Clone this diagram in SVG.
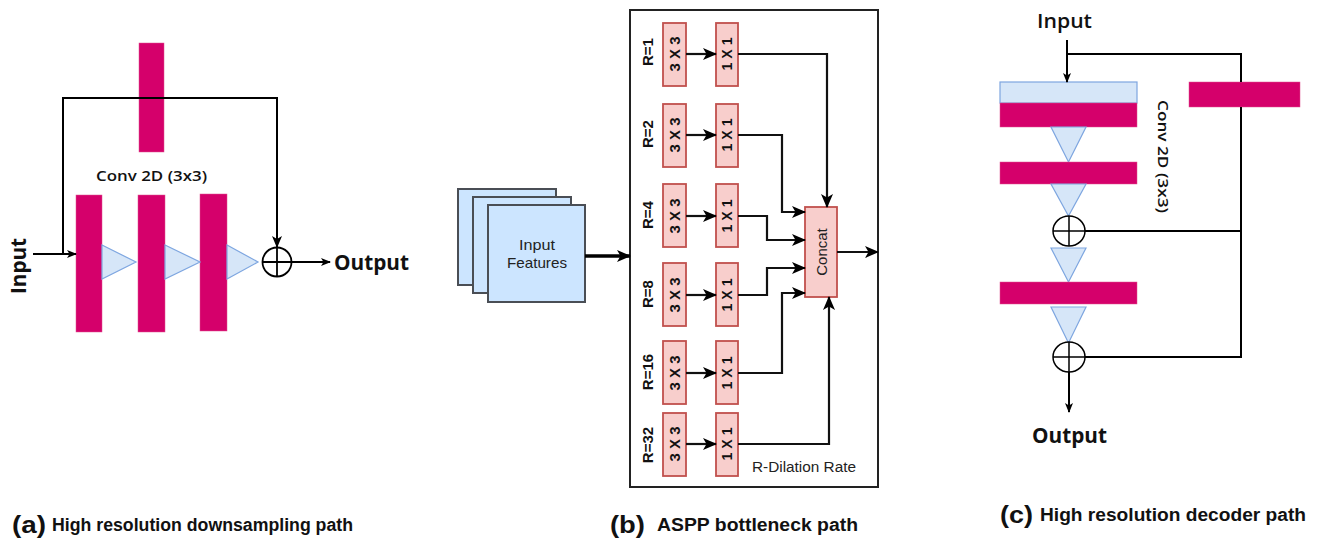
<svg xmlns="http://www.w3.org/2000/svg" width="1318" height="541" viewBox="0 0 1318 541">
<style>
.mag{fill:#d5006b;stroke:#e0508f;stroke-width:0.5}
.tri{fill:#d6e6f8;stroke:#7ea6e0;stroke-width:1.2}
.ln{fill:none;stroke:#000;stroke-width:2}
.ln2{fill:none;stroke:#111;stroke-width:2.2}
.sal{fill:#f8cecc;stroke:#c0504d;stroke-width:1.8}
.card{fill:#cce5ff;stroke:#4a4e55;stroke-width:2}
.bold{font-family:"Liberation Sans",Arial,sans-serif;font-weight:bold;fill:#111}
.rl{font-family:"Liberation Sans",Arial,sans-serif;font-weight:bold;fill:#111;font-size:15px}
.bx{font-family:"Liberation Sans",Arial,sans-serif;font-weight:bold;fill:#111;font-size:14px}
.os{font-family:"Open Sans","Liberation Sans",sans-serif;fill:#111}
.cap{font-family:"Liberation Sans",Arial,sans-serif;font-weight:bold;fill:#111}
</style>
<defs>
<marker id="ah" markerUnits="userSpaceOnUse" markerWidth="12" markerHeight="10" refX="11" refY="5" orient="auto"><path d="M0,0 L12,5 L0,10 L3,5 Z" fill="#000"/></marker>
<marker id="ahb" markerUnits="userSpaceOnUse" markerWidth="14" markerHeight="12" refX="13" refY="6" orient="auto"><path d="M0,0 L14,6 L0,12 L3.5,6 Z" fill="#000"/></marker>
<marker id="ahs" markerUnits="userSpaceOnUse" markerWidth="10" markerHeight="8" refX="9" refY="4" orient="auto"><path d="M0,0 L10,4 L0,8 L2.5,4 Z" fill="#000"/></marker>
</defs>
<rect width="1318" height="541" fill="#fff"/>

<!-- Panel (a) -->
<g id="a-skipconv"><rect class="mag" x="139" y="43" width="25" height="109"/></g>
<g id="a-conv1"><rect class="mag" x="76" y="195" width="26" height="137"/></g>
<g id="a-conv2"><rect class="mag" x="138" y="195" width="27" height="137"/></g>
<g id="a-conv3"><rect class="mag" x="200" y="194" width="27" height="137"/></g>
<g id="a-tri1"><path class="tri" d="M102,245 L136,262 L102,279 Z"/></g>
<g id="a-tri2"><path class="tri" d="M165,245 L200,262 L165,279 Z"/></g>
<g id="a-tri3"><path class="tri" d="M227,245 L258,262 L227,279 Z"/></g>
<g id="a-sum"><circle cx="277" cy="262" r="14.5" fill="#fff" stroke="#000" stroke-width="1.8"/><path d="M262.5,262 H291.5 M277,247.5 V276.5" stroke="#000" stroke-width="1.8"/></g>
<g id="a-labels">
<text class="os" x="96" y="181" font-size="14" font-weight="600" textLength="111" lengthAdjust="spacingAndGlyphs">Conv 2D (3x3)</text>
<text class="os" x="334" y="270" font-size="21" font-weight="bold" textLength="75" lengthAdjust="spacingAndGlyphs">Output</text>
<text class="os" transform="translate(26,294) rotate(-90)" font-size="21" font-weight="bold" textLength="56" lengthAdjust="spacingAndGlyphs">Input</text>
</g>

<!-- Panel (b) -->
<g id="b-input">
<rect class="card" x="458" y="189" width="98" height="96"/>
<rect class="card" x="473" y="197" width="98" height="96"/>
<rect class="card" x="488" y="205" width="97" height="97"/>
<text x="537" y="250" text-anchor="middle" font-size="15" font-family="Liberation Sans, Arial, sans-serif" fill="#222" textLength="36" lengthAdjust="spacingAndGlyphs">Input</text>
<text x="537" y="268" text-anchor="middle" font-size="15" font-family="Liberation Sans, Arial, sans-serif" fill="#222" textLength="60" lengthAdjust="spacingAndGlyphs">Features</text>
</g>
<g id="b-aspp"><rect x="630" y="10" width="248" height="477" fill="none" stroke="#222" stroke-width="2"/>
<text x="752" y="472" font-size="14" font-family="Liberation Sans, Arial, sans-serif" fill="#222" textLength="104" lengthAdjust="spacingAndGlyphs">R-Dilation Rate</text></g>

<g id="b-row1"><text class="rl" text-anchor="middle" transform="translate(653,52) rotate(-90)">R=1</text>
<rect class="sal" x="663" y="23" width="23" height="63"/><text class="bx" text-anchor="middle" transform="translate(679.5,54) rotate(-90)" textLength="35" lengthAdjust="spacingAndGlyphs">3 X 3</text>
<rect class="sal" x="716" y="23" width="22" height="63"/><text class="bx" text-anchor="middle" transform="translate(732,54) rotate(-90)" textLength="33" lengthAdjust="spacingAndGlyphs">1 X 1</text></g>
<g id="b-row2"><text class="rl" text-anchor="middle" transform="translate(653,134) rotate(-90)">R=2</text>
<rect class="sal" x="663" y="104" width="23" height="63"/><text class="bx" text-anchor="middle" transform="translate(679.5,135) rotate(-90)" textLength="35" lengthAdjust="spacingAndGlyphs">3 X 3</text>
<rect class="sal" x="716" y="104" width="22" height="63"/><text class="bx" text-anchor="middle" transform="translate(732,135) rotate(-90)" textLength="33" lengthAdjust="spacingAndGlyphs">1 X 1</text></g>
<g id="b-row3"><text class="rl" text-anchor="middle" transform="translate(653,215) rotate(-90)">R=4</text>
<rect class="sal" x="663" y="184" width="23" height="63"/><text class="bx" text-anchor="middle" transform="translate(679.5,216) rotate(-90)" textLength="35" lengthAdjust="spacingAndGlyphs">3 X 3</text>
<rect class="sal" x="716" y="184" width="22" height="63"/><text class="bx" text-anchor="middle" transform="translate(732,216) rotate(-90)" textLength="33" lengthAdjust="spacingAndGlyphs">1 X 1</text></g>
<g id="b-row4"><text class="rl" text-anchor="middle" transform="translate(653,294) rotate(-90)">R=8</text>
<rect class="sal" x="663" y="263" width="23" height="63"/><text class="bx" text-anchor="middle" transform="translate(679.5,295) rotate(-90)" textLength="35" lengthAdjust="spacingAndGlyphs">3 X 3</text>
<rect class="sal" x="716" y="263" width="22" height="63"/><text class="bx" text-anchor="middle" transform="translate(732,295) rotate(-90)" textLength="33" lengthAdjust="spacingAndGlyphs">1 X 1</text></g>
<g id="b-row5"><text class="rl" text-anchor="middle" transform="translate(653,372) rotate(-90)">R=16</text>
<rect class="sal" x="663" y="341" width="23" height="63"/><text class="bx" text-anchor="middle" transform="translate(679.5,373) rotate(-90)" textLength="35" lengthAdjust="spacingAndGlyphs">3 X 3</text>
<rect class="sal" x="716" y="341" width="22" height="63"/><text class="bx" text-anchor="middle" transform="translate(732,373) rotate(-90)" textLength="33" lengthAdjust="spacingAndGlyphs">1 X 1</text></g>
<g id="b-row6"><text class="rl" text-anchor="middle" transform="translate(653,445) rotate(-90)">R=32</text>
<rect class="sal" x="663" y="413" width="23" height="63"/><text class="bx" text-anchor="middle" transform="translate(679.5,444) rotate(-90)" textLength="35" lengthAdjust="spacingAndGlyphs">3 X 3</text>
<rect class="sal" x="716" y="413" width="22" height="63"/><text class="bx" text-anchor="middle" transform="translate(732,444) rotate(-90)" textLength="33" lengthAdjust="spacingAndGlyphs">1 X 1</text></g>
<g id="b-concat"><rect class="sal" x="805" y="207" width="32" height="90"/><text font-size="15" font-family="Liberation Sans, Arial, sans-serif" fill="#222" text-anchor="middle" transform="translate(826.5,252) rotate(-90)">Concat</text></g>

<!-- Panel (c) -->
<g id="c-bn"><rect x="1000" y="82" width="137" height="21" fill="#d6e6f8" stroke="#7ea6e0" stroke-width="1.2"/></g>
<g id="c-conv1"><rect class="mag" x="1000" y="103" width="137" height="24"/></g>
<g id="c-skipconv"><rect class="mag" x="1189" y="82" width="111" height="25"/></g>
<g id="c-tri1"><path class="tri" d="M1051,127 L1086,127 L1068.5,162 Z"/></g>
<g id="c-conv2"><rect class="mag" x="1000" y="162" width="137" height="22"/></g>
<g id="c-tri2"><path class="tri" d="M1051,184 L1086,184 L1068.5,216 Z"/></g>
<g id="c-sum1"><ellipse cx="1069" cy="231" rx="16" ry="15" fill="#fff" stroke="#000" stroke-width="1.5"/><path d="M1053,231 H1085 M1069,216 V246" stroke="#000" stroke-width="1.5"/></g>
<g id="c-tri3"><path class="tri" d="M1051,248 L1086,248 L1068.5,282 Z"/></g>
<g id="c-conv3"><rect class="mag" x="1000" y="282" width="137" height="22"/></g>
<g id="c-tri4"><path class="tri" d="M1051,307 L1086,307 L1068.5,343 Z"/></g>
<g id="c-sum2"><ellipse cx="1069" cy="357" rx="16" ry="15" fill="#fff" stroke="#000" stroke-width="1.5"/><path d="M1053,357 H1085 M1069,342 V372" stroke="#000" stroke-width="1.5"/></g>
<g id="c-labels">
<text class="os" x="1037" y="28" font-size="20" font-weight="600" textLength="55" lengthAdjust="spacingAndGlyphs">Input</text>
<text class="os" x="1032" y="443" font-size="21" font-weight="bold" textLength="75" lengthAdjust="spacingAndGlyphs">Output</text>
<text class="os" font-size="14" font-weight="600" transform="translate(1158,100) rotate(90)" textLength="113" lengthAdjust="spacingAndGlyphs">Conv 2D (3x3)</text>
</g>

<!-- Connectors -->
<g id="connectors">
<path class="ln" d="M33,254 H76" marker-end="url(#ahs)"/>
<path class="ln" d="M63,254 V98 H277 V247" marker-end="url(#ah)"/>
<path class="ln" d="M291.5,262 H330" marker-end="url(#ahs)"/>
<path fill="none" stroke="#000" stroke-width="3.5" d="M585,256 H630" marker-end="url(#ahb)"/>
<path class="ln2" d="M686,54 H716" marker-end="url(#ahb)"/>
<path class="ln2" d="M686,135 H716" marker-end="url(#ahb)"/>
<path class="ln2" d="M686,216 H716" marker-end="url(#ahb)"/>
<path class="ln2" d="M686,295 H716" marker-end="url(#ahb)"/>
<path class="ln2" d="M686,373 H716" marker-end="url(#ahb)"/>
<path class="ln2" d="M686,444 H716" marker-end="url(#ahb)"/>
<path class="ln2" d="M738,54 H827 V207" marker-end="url(#ahb)"/>
<path class="ln2" d="M738,135 H782 V212 H805" marker-end="url(#ahb)"/>
<path class="ln2" d="M738,216 H767 V240 H805" marker-end="url(#ahb)"/>
<path class="ln2" d="M738,295 H767 V268 H805" marker-end="url(#ahb)"/>
<path class="ln2" d="M738,373 H782 V293 H805" marker-end="url(#ahb)"/>
<path class="ln2" d="M738,444 H829 V297" marker-end="url(#ahb)"/>
<path class="ln2" d="M837,252 H878" marker-end="url(#ahb)"/>
<path class="ln" d="M1067,40 V82" marker-end="url(#ahs)"/>
<path class="ln" d="M1067,54 H1241 V82"/>
<path class="ln" d="M1241,107 V357 H1085"/>
<path class="ln" d="M1241,231 H1085"/>
<path class="ln" d="M1069,372 V412" marker-end="url(#ahs)"/>
</g>

<!-- Captions -->
<g id="captions">
<text class="cap" x="12" y="533" font-size="24" textLength="34" lengthAdjust="spacingAndGlyphs">(a)</text>
<text class="cap" x="52" y="531" font-size="18" textLength="301" lengthAdjust="spacingAndGlyphs">High resolution downsampling path</text>
<text class="cap" x="610" y="533" font-size="24" textLength="35" lengthAdjust="spacingAndGlyphs">(b)</text>
<text class="cap" x="657" y="531" font-size="18" textLength="201" lengthAdjust="spacingAndGlyphs">ASPP bottleneck path</text>
<text class="cap" x="1000" y="523" font-size="24" textLength="33" lengthAdjust="spacingAndGlyphs">(c)</text>
<text class="cap" x="1040" y="521" font-size="18" textLength="266" lengthAdjust="spacingAndGlyphs">High resolution decoder path</text>
</g>
</svg>
